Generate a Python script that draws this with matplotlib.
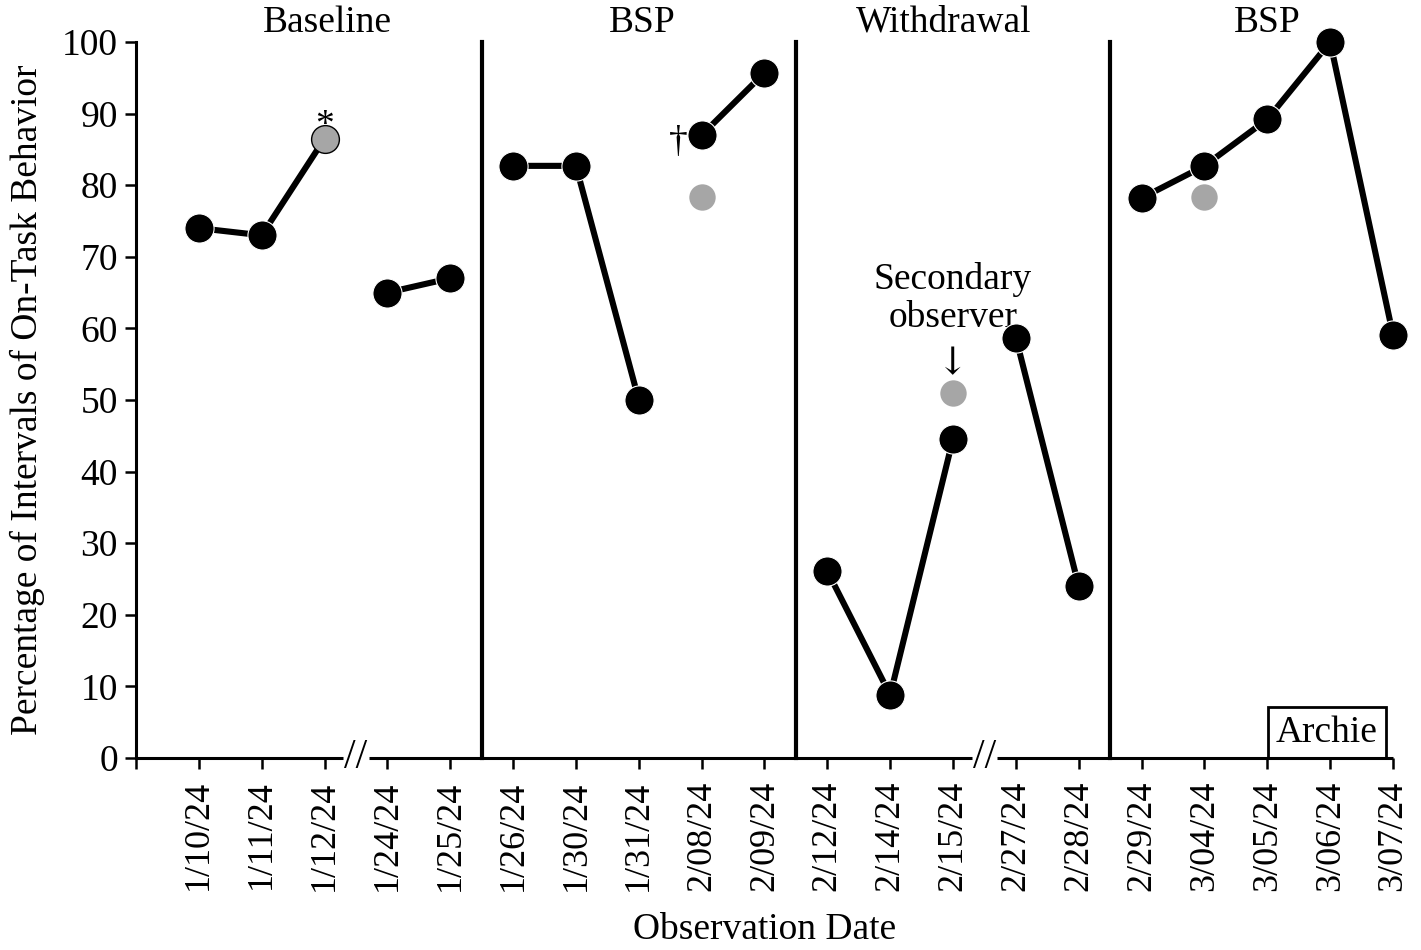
import matplotlib
matplotlib.use("Agg")
import matplotlib.pyplot as plt
import numpy as np

plt.rcParams['font.family'] = ['Liberation Serif', 'DejaVu Serif']

dates = ["1/10/24", "1/11/24", "1/12/24", "1/24/24", "1/25/24",
         "1/26/24", "1/30/24", "1/31/24", "2/08/24", "2/09/24",
         "2/12/24", "2/14/24", "2/15/24", "2/27/24", "2/28/24",
         "2/29/24", "3/04/24", "3/05/24", "3/06/24", "3/07/24"]
on_task = [74.0, 73.0, 86.5, 65.0, 67.0,
           82.7, 82.7, 50.0, 87.0, 95.7,
           26.1, 8.8, 44.6, 58.7, 24.0,
           78.2, 82.7, 89.2, 100.0, 59.1]
# secondary observer (IOA) points
ioa_dates = ["2/08/24", "2/15/24", "3/04/24"]
ioa_values = [78.3, 51.0, 78.3]
# line segments (indices into dates, inclusive ranges)
segments = [(0, 2), (3, 4), (5, 7), (8, 9), (10, 12), (13, 14), (15, 19)]
phase_names = ["Baseline", "BSP", "Withdrawal", "BSP"]
phase_centers = [3.05, 8.05, 12.85, 18.0]
phase_lines = [5.5, 10.5, 15.5]
breaks = [3.5, 13.5]

x = np.arange(1, len(dates) + 1)
y = np.array(on_task)

FS = 27
fig = plt.figure(figsize=(14.21, 9.5), dpi=100)
ax = fig.add_axes([0.0957, 0.2021, 0.8846, 0.7537])
ax.set_xlim(0, 20)
ax.set_ylim(0, 100)

GRAY = '#a6a6a6'
for a, b in segments:
    ax.plot(x[a:b + 1], y[a:b + 1], color='black', lw=4.4, zorder=3,
            solid_capstyle='butt')

for i in range(len(dates)):
    if i == 2:
        ax.plot(x[i], y[i], 'o', ms=20, mfc=GRAY, mec='black', mew=1.0,
                zorder=4, clip_on=False)
    else:
        ax.plot(x[i], y[i], 'o', ms=21, mfc='black', mec='white', mew=0.8,
                zorder=4, clip_on=False)

ioa_x = [dates.index(d) + 1 for d in ioa_dates]
ax.plot(ioa_x, ioa_values, 'o', ms=19, mfc=GRAY, mec='none', zorder=4)

for pl in phase_lines:
    ax.plot([pl, pl], [0, 100], color='black', lw=3.0, zorder=2, clip_on=False)

for name, c in zip(phase_names, phase_centers):
    ax.text(c, 101.4, name, ha='center', va='baseline', fontsize=FS)

# spines
ax.spines['top'].set_visible(False)
ax.spines['right'].set_visible(False)
ax.spines['bottom'].set_visible(False)
ax.spines['left'].set_linewidth(2.2)

# bottom axis with breaks
edges = [0] + [v for b in breaks for v in (b - 0.2, b + 0.2)] + [20]
for i in range(0, len(edges), 2):
    ax.plot([edges[i], edges[i + 1]], [0, 0], color='black', lw=2.2,
            clip_on=False, zorder=5, solid_capstyle='butt')
for b in breaks:
    ax.text(b, 0, "//", ha='center', va='center', fontsize=30, zorder=6,
            clip_on=False)

ax.set_xticks(np.arange(0, 21))
ax.set_xticklabels([""] + dates, rotation=90, fontsize=26)
ax.set_yticks(np.arange(0, 101, 10))
ax.set_yticklabels([str(v) for v in range(0, 101, 10)], fontsize=FS)
ax.tick_params(axis='both', direction='out', length=8, width=1.8,
               color='black', pad=5)
ax.tick_params(axis='x', pad=8)

ax.set_xlabel("Observation Date", fontsize=FS, labelpad=16)
ax.set_ylabel("Percentage of Intervals of On-Task Behavior", fontsize=FS,
              labelpad=12)

# annotations
ax.text(x[2], y[2] - 0.6, "*", ha='center', va='bottom', fontsize=FS, zorder=6)
ax.text(x[8] - 0.38, y[8] - 1.1, "\u2020", ha='center', va='center',
        fontsize=FS, zorder=6)
ax.text(13.0, 64.2, "Secondary\nobserver", ha='center', va='center',
        fontsize=FS, linespacing=1.12, zorder=1)
ax.text(13.0, 55.0, "\u2193", ha='center', va='center', fontsize=FS,
        family=['DejaVu Serif'])

ax.text(0.9475, 0.035, "Archie", transform=ax.transAxes, ha='center',
        va='center', fontsize=FS,
        bbox=dict(boxstyle='square,pad=0.22', fc='white', ec='black', lw=2.0))

fig.savefig("out.png", dpi=100)
